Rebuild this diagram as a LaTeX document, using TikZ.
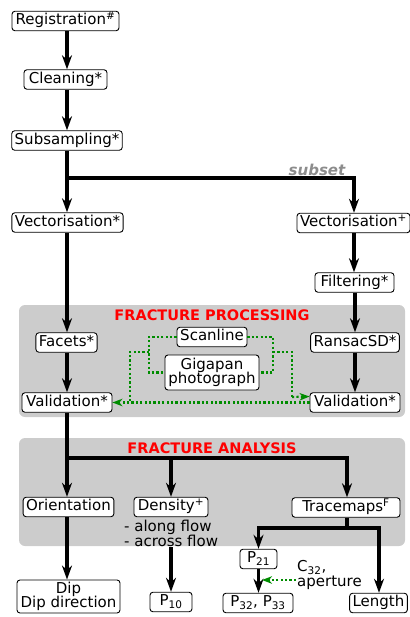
\documentclass[tikz,border=0pt]{standalone}
\usepackage{fontspec}
\setmainfont{DejaVu Sans}
\usetikzlibrary{arrows.meta}
\definecolor{panel}{RGB}{204,204,204}
\definecolor{gline}{RGB}{0,140,0}
\definecolor{subsetgray}{RGB}{140,140,140}
\begin{document}
\begin{tikzpicture}[x=1pt,y=-1pt,
  box/.style={draw, rounded corners=3pt, fill=white, line width=0.9pt,
    inner xsep=3pt, inner ysep=2.5pt, font=\fontsize{15}{14}\selectfont,
    text height=11pt, text depth=3.5pt},
  mbox/.style={draw, rounded corners=3pt, fill=white, line width=0.9pt,
    inner xsep=3pt, inner ysep=2pt, font=\fontsize{15}{14}\selectfont, align=center},
  flow/.style={line width=3.3pt, line join=miter, -{Stealth[length=14pt,width=10pt,inset=4.5pt]}},
  seg/.style={line width=3.3pt, line join=miter},
  gdot/.style={gline, line width=2.2pt, dash pattern=on 2.2pt off 2.2pt},
  garrow/.style={gdot, -{Stealth[length=10pt,width=7.5pt,inset=3pt]}},
  panelbox/.style={fill=panel, rounded corners=6pt},
  title/.style={red, font=\fontsize{14.5}{16}\selectfont\bfseries},
  plain/.style={font=\fontsize{15}{12.5}\selectfont, inner sep=0pt}
]
\useasboundingbox (0,0) rectangle (409,617);

% panels
\fill[panelbox] (19,305) rectangle (405,417);
\fill[panelbox] (19,438) rectangle (405,546);
\node[title] (tproc) at (212,315) {FRACTURE PROCESSING};
\node[title] (tana) at (212,448) {FRACTURE ANALYSIS};

% nodes
\node[box, minimum width=107pt] (reg) at (65.5,21) {Registration\textsuperscript{\#}};
\node[box, minimum width=83pt] (clean) at (65.5,79.5) {Cleaning*};
\node[box, minimum width=110pt] (subs) at (67,140.5) {Subsampling*};
\node[box, minimum width=109pt] (vecL) at (67.5,222.5) {Vectorisation*};
\node[box, minimum width=109pt] (vecR) at (353.5,223) {Vectorisation\textsuperscript{+}};
\node[box, minimum width=79pt] (filt) at (354.5,282.5) {Filtering*};
\node[box, minimum width=61pt] (facets) at (66.5,342.5) {Facets*};
\node[box, minimum width=70pt] (scan) at (212,337) {Scanline};
\node[mbox, minimum width=94pt, minimum height=35pt] (giga) at (212,372.5) {Gigapan\\[-1pt]photograph};
\node[box, minimum width=88pt] (ransac) at (355,342.5) {RansacSD*};
\node[box, minimum width=90pt] (valL) at (67,402.5) {Validation*};
\node[box, minimum width=90pt] (valR) at (355,402.5) {Validation*};

\node[box, minimum width=89pt] (orient) at (68.5,507) {Orientation};
\node[box, minimum width=74pt] (dens) at (171,507) {Density\textsuperscript{+}};
\node[plain, anchor=north west, align=left] (flowtxt) at (124,519.5) {- along flow\\- across flow};
\node[box, minimum width=108pt] (trace) at (346,507.5) {Tracemaps\textsuperscript{F}};

\node[mbox, minimum width=103pt, minimum height=31pt] (dip) at (68.5,596.5) {Dip\\[-1pt]Dip direction};
\node[box, minimum width=42pt] (p10) at (171,602) {P\textsubscript{10}};
\node[box, minimum width=37pt] (p21) at (258.5,559) {P\textsubscript{21}};
\node[box, minimum width=70pt] (p32) at (258,603) {P\textsubscript{32}, P\textsubscript{33}};
\node[box, minimum width=57pt] (len) at (378.5,603) {Length};
\node[plain, anchor=north west, align=left, font=\fontsize{15}{15}\selectfont] (c32) at (297,560) {C\textsubscript{32},\\aperture};
\node[font=\fontsize{15}{16}\selectfont\bfseries\itshape, text=subsetgray, inner sep=0pt] (subset) at (317,170) {subset};

% coordinates
\coordinate (col) at (67,0);
\coordinate (br) at (67,178);
\coordinate (brR) at (354,178);
\coordinate (ana) at (67,458);
\coordinate (anaR) at (347,458);
\coordinate (tr) at (347,528);
\coordinate (trL) at (258.5,528);
\coordinate (trR) at (379,528);
\coordinate (gl1) at (149,352);
\coordinate (gl2) at (130,352);
\coordinate (gl3) at (130,403);
\coordinate (gr1) at (273,352);
\coordinate (gr2) at (292,352);
\coordinate (gr3) at (292,397);
\coordinate (cstart) at (296,580);
\coordinate (ctip) at (262,580);

% black flow
\draw[flow] (reg.south -| col) -- (clean.north -| col);
\draw[flow] (clean.south -| col) -- (subs.north -| col);
\draw[flow] (subs.south -| br) -- (vecL.north -| br);
\draw[flow] (br) -| (vecR.north -| brR);
\draw[flow] (vecR.south -| brR) -- (filt.north -| brR);
\draw[flow] (filt.south -| ransac) -- (ransac.north);
\draw[flow] (ransac.south) -- (valR.north);
\draw[flow] (vecL.south -| br) -- (facets.north -| br);
\draw[flow] (facets.south -| br) -- (valL.north -| br);
\draw[seg] (valL.south -| ana) -- (ana);
\draw[flow] (ana) -| (trace.north -| anaR);
\draw[flow] (ana) -- (orient.north -| ana);
\draw[flow] (ana -| dens) -- (dens.north);
\draw[flow] (orient.south -| ana) -- (dip.north -| ana);
\draw[flow] (flowtxt.south -| dens) -- (p10.north);
\draw[seg] (trace.south -| tr) -- (tr);
\draw[flow] (tr) -| (len.north -| trR);
\draw[flow] (tr) -| (p21.north -| trL);
\draw[flow] (p21.south -| trL) -- (p32.north -| trL);

% green dotted
\draw[gdot] (scan.west) -| (gl1) |- (giga.west);
\draw[gdot] (scan.east) -| (gr1) |- (giga.east);
\draw[gdot] (gl1) -- (gl2) -- (gl3);
\draw[garrow] (valR.west) -- (valL.east);
\draw[gdot] (gr1) -- (gr2) -- (gr3);
\draw[garrow] (gr3) -- ([yshift=6pt]valR.west);
\draw[garrow] (cstart) -- (ctip);
\end{tikzpicture}
\end{document}
